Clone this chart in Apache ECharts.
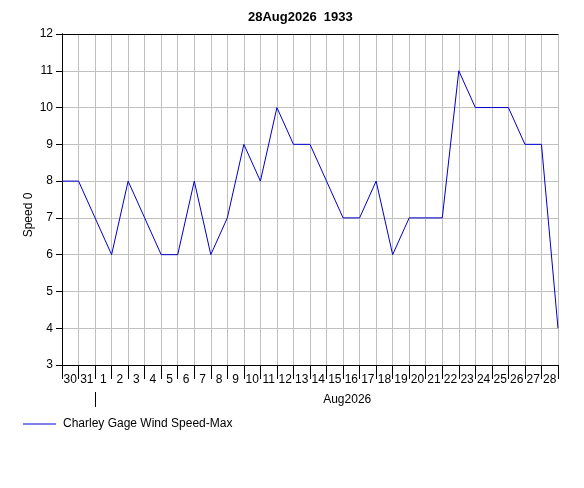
<!DOCTYPE html>
<html>
<head>
<meta charset="utf-8">
<script src="https://cdn.jsdelivr.net/npm/echarts@6/dist/echarts.min.js"></script>
<style>html,body{margin:0;padding:0;background:#fff}#c{width:584px;height:488px}</style>
</head>
<body>
<div id="c"></div>
<script>
const titleText = '28Aug2026  1933';
const dayLabels = ['30','31','1','2','3','4','5','6','7','8','9','10','11','12','13','14','15','16','17','18','19','20','21','22','23','24','25','26','27','28'];
const speedMax = [8,8,7,6,8,7,6,6,8,6,7,9,8,10,9,9,8,7,7,8,6,7,7,7,11,10,10,10,9,9,4];
const yTicks = { min: 3, max: 12, interval: 1 };
const monthLabel = 'Aug2026';
const monthBoundary = 2;
const monthLabelPos = 17.25;
const seriesName = 'Charley Gage Wind Speed-Max';
const yName = 'Speed 0';

const font = 'Liberation Sans, Arial, sans-serif';
const chart = echarts.init(document.getElementById('c'), null, { renderer: 'canvas' });
chart.setOption({
  animation: false,
  backgroundColor: '#fff',
  title: {
    text: titleText, left: 243, top: 6,
    textStyle: { fontFamily: font, fontSize: 13, fontWeight: 'bold', color: '#000' }
  },
  legend: {
    left: 23, top: 418, padding: 0, itemWidth: 33, itemHeight: 1, itemGap: 10,
    icon: 'rect',
    textStyle: { fontFamily: font, fontSize: 12, color: '#000', padding: [0, 0, 0, 2] },
    data: [seriesName]
  },
  grid: { left: 62, right: 26, top: 34, bottom: 123, containLabel: false },
  xAxis: [
    {
      type: 'category', data: dayLabels, boundaryGap: true, position: 'bottom',
      axisLine: { show: true, lineStyle: { color: '#000', width: 1 } },
      axisTick: { show: true, interval: 0, length: 14, lineStyle: { color: '#000' } },
      axisLabel: { interval: 0, margin: 9, color: '#000', fontFamily: font, fontSize: 12 },
      splitLine: { show: true, interval: 0, lineStyle: { color: '#c0c0c0', width: 1 } }
    },
    {
      type: 'value', min: 0, max: dayLabels.length, show: false
    },
    {
      type: 'value', min: 0, max: dayLabels.length, position: 'bottom', offset: 27,
      axisLine: { show: false },
      axisTick: { show: true, customValues: [monthBoundary], length: 15, lineStyle: { color: '#000' } },
      axisLabel: { show: true, customValues: [monthLabelPos], formatter: function () { return monthLabel; }, margin: 2, color: '#000', fontFamily: font, fontSize: 12 },
      splitLine: { show: false }
    },
    {
      type: 'value', min: 0, max: dayLabels.length, position: 'top',
      axisLine: { show: true, lineStyle: { color: '#000' } },
      axisTick: { show: false }, axisLabel: { show: false }, splitLine: { show: false }
    }
  ],
  yAxis: [
    {
      type: 'value', min: yTicks.min, max: yTicks.max, interval: yTicks.interval,
      axisLine: { show: true, lineStyle: { color: '#000' } },
      axisTick: { show: true, inside: false, length: 6, lineStyle: { color: '#000' } },
      axisLabel: { margin: 9, color: '#000', fontFamily: font, fontSize: 12 },
      splitLine: { show: true, lineStyle: { color: '#c0c0c0', width: 1 } }
    },
    {
      type: 'value', min: yTicks.min, max: yTicks.max, interval: yTicks.interval, position: 'right',
      axisLine: { show: true, lineStyle: { color: '#000' } },
      axisTick: { show: false }, axisLabel: { show: false }, splitLine: { show: false }
    }
  ],
  graphic: [
    {
      type: 'text', x: 29, y: 215, rotation: Math.PI / 2,
      style: { text: yName, fontFamily: font, fontSize: 12, fill: '#000', textAlign: 'center', textVerticalAlign: 'middle' }
    }
  ],
  series: [
    {
      name: seriesName, type: 'line', xAxisIndex: 1, yAxisIndex: 0,
      symbol: 'none', color: '#0000cc',
      lineStyle: { color: '#0000cc', width: 1 },
      data: speedMax.map(function (v, i) { return [i, v]; })
    }
  ]
});
</script>
</body>
</html>
